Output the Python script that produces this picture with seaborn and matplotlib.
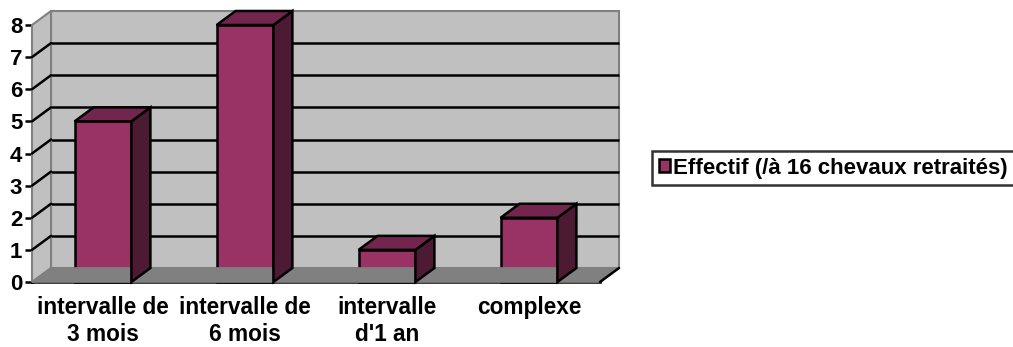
import matplotlib
matplotlib.use("Agg")
import matplotlib.pyplot as plt
import matplotlib.transforms as mtransforms
from matplotlib.patches import Polygon, Patch
import seaborn as sns
import pandas as pd

categories = ["intervalle de\n3 mois", "intervalle de\n6 mois", "intervalle\nd'1 an", "complexe"]
effectif = [5, 8, 1, 2]
series_name = "Effectif (/à 16 chevaux retraités)"
y_ticks = [0, 1, 2, 3, 4, 5, 6, 7, 8]

FRONT = "#993366"
TOP = "#73264d"
SIDE = "#4d1a33"
WALL = "#c0c0c0"
FLOOR = "#808080"
EDGE = "#808080"
FS = 16

sns.set_theme(style="white")
plt.rcParams["font.family"] = ["Liberation Sans", "DejaVu Sans"]
plt.rcParams["font.weight"] = "bold"
plt.rcParams["text.color"] = "black"
plt.rcParams["xtick.color"] = "black"
plt.rcParams["ytick.color"] = "black"
plt.rcParams["xtick.labelcolor"] = "black"
plt.rcParams["ytick.labelcolor"] = "black"

fig = plt.figure(figsize=(10.13, 3.47), dpi=100)
ax = fig.add_axes([32 / 1013, 1 - 282 / 347, (600 - 32) / 1013, (282 - 25) / 347])

df = pd.DataFrame({"cat": categories, "val": effectif})
sns.barplot(data=df, x="cat", y="val", color=FRONT, width=0.4, saturation=1,
            edgecolor="black", linewidth=1.8, ax=ax, zorder=5)

ax.set_xlim(-0.5, len(categories) - 0.5)
ax.set_ylim(0, 8)
ax.set_facecolor("none")

# depth offset for the pseudo-3D look (in pixels)
DX, DY = 19, 14
off = mtransforms.offset_copy(ax.transData, fig=fig, x=DX, y=DY, units="dots")

def depth_poly(p0, p1, fc, ec, lw, z):
    # quad: p0 -> p1 on the front plane, then the same points pushed back
    a = ax.transData.transform(p0)
    b = ax.transData.transform(p1)
    pts = [a, b, (b[0] + DX, b[1] + DY), (a[0] + DX, a[1] + DY)]
    poly = Polygon(pts, closed=True, facecolor=fc, edgecolor=ec, linewidth=lw,
                   transform=None, zorder=z, clip_on=False, joinstyle="miter")
    fig.add_artist(poly)
    return poly

x0, x1 = -0.5, len(categories) - 0.5
ymax = max(y_ticks)

# back wall
ax.add_patch(Polygon([(x0, 0), (x1, 0), (x1, ymax), (x0, ymax)], closed=True,
                     facecolor=WALL, edgecolor=EDGE, linewidth=1.5,
                     transform=off, zorder=0, clip_on=False))
# left side wall
depth_poly((x0, 0), (x0, ymax), WALL, EDGE, 1.5, 0.5)
# floor
depth_poly((x0, 0), (x1, 0), FLOOR, EDGE, 1.2, 1)

# gridlines on back wall and left wall
for yv in y_ticks[1:-1]:
    ax.plot([x0, x1], [yv, yv], color="black", linewidth=1.8, transform=off,
            zorder=0.8, clip_on=False, solid_capstyle="butt")
    a = ax.transData.transform((x0, yv))
    fig.add_artist(plt.Line2D([a[0], a[0] + DX], [a[1], a[1] + DY], color="black",
                              linewidth=1.8, transform=None, zorder=0.8))

# right end of the floor edge
a = ax.transData.transform((x1, 0))
fig.add_artist(plt.Line2D([a[0], a[0] + DX], [a[1], a[1] + DY], color="black",
                          linewidth=1.8, transform=None, zorder=2))

# bar tops and sides
for patch, v in zip(ax.patches, effectif):
    bx0 = patch.get_x()
    bx1 = bx0 + patch.get_width()
    depth_poly((bx1, 0), (bx1, v), SIDE, "black", 1.8, 4)
    depth_poly((bx0, v), (bx1, v), TOP, "black", 1.8, 4)
    patch.set_zorder(6)
    patch.set_clip_on(False)

# axes, ticks and labels
for s in ["top", "right"]:
    ax.spines[s].set_visible(False)
for s in ["left", "bottom"]:
    ax.spines[s].set_color("black")
    ax.spines[s].set_linewidth(1.8)
    ax.spines[s].set_zorder(7)

ax.set_yticks(y_ticks)
ax.set_yticklabels([str(t) for t in y_ticks], fontsize=FS, fontweight="bold", color="black")
ax.set_xticks(range(len(categories)))
ax.set_xticklabels(categories, fontsize=16.3, fontweight="bold", linespacing=1.25, color="black")
ax.set_xticks([i - 0.5 for i in range(len(categories) + 1)], minor=True)
ax.tick_params(axis="x", which="major", length=0, pad=10)
ax.tick_params(axis="x", which="minor", length=6, width=1.8, color="black", direction="out")
ax.tick_params(axis="y", length=5, width=1.8, color="black", direction="out", pad=2, left=True)
ax.set_xlabel("")
ax.set_ylabel("")
ax.grid(False)

leg = fig.legend(handles=[Patch(facecolor=FRONT, edgecolor="black", linewidth=1.8, label=series_name)],
                 loc="center left", bbox_to_anchor=(652 / 1013, 1 - 168 / 347),
                 frameon=True, fancybox=False, edgecolor="black", fontsize=FS,
                 handlelength=0.5, handleheight=0.5, handletextpad=0.15,
                 borderpad=0.3, borderaxespad=0)
leg.get_frame().set_linewidth(1.8)
for t in leg.get_texts():
    t.set_fontweight("bold")
    t.set_color("black")

fig.savefig("out.png", dpi=100, facecolor="white")
